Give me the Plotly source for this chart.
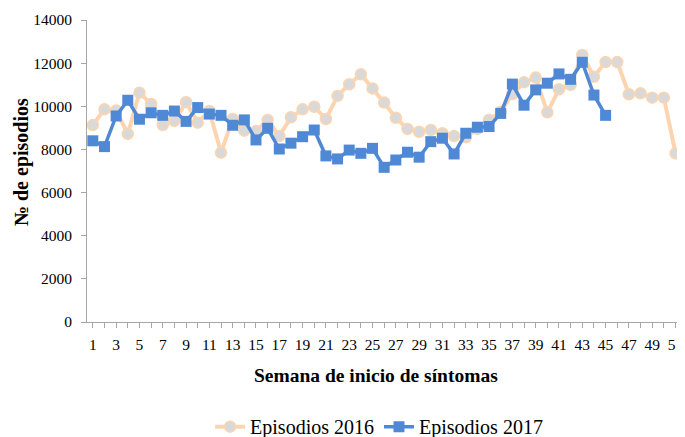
import plotly.graph_objects as go

weeks_2016 = list(range(1, 53))
episodios_2016 = [9130, 9860, 9800, 8720, 10630, 10110, 9130, 9320, 10190, 9240,
                  9780, 7850, 9410, 8870, 8850, 9370, 8620, 9490, 9860, 9980,
                  9410, 10480, 11020, 11480, 10830, 10170, 9470, 8950, 8820, 8900,
                  8750, 8620, 8560, 8950, 9370, 9750, 10570, 11110, 11330, 9720,
                  10790, 10990, 12380, 11370, 12050, 12050, 10560, 10600, 10400, 10400,
                  7820, 7820]

weeks_2017 = list(range(1, 46))
episodios_2017 = [8400, 8130, 9550, 10280, 9400, 9700, 9580, 9780, 9300, 9940,
                  9640, 9580, 9120, 9370, 8440, 8980, 8020, 8290, 8590, 8900,
                  7700, 7560, 7970, 7820, 8050, 7170, 7510, 7870, 7640, 8360,
                  8520, 7790, 8750, 9030, 9060, 9670, 11030, 10050, 10760, 11070,
                  11500, 11250, 12040, 10520, 9580]

y_ticks = [0, 2000, 4000, 6000, 8000, 10000, 12000, 14000]
y_tick_text = [str(v) for v in y_ticks]
x_tick_vals = list(range(1, 53))
x_tick_text = [str(w) if w % 2 == 1 else "" for w in x_tick_vals]

FONT = "Liberation Serif"

fig = go.Figure()
fig.add_trace(go.Scatter(
    x=weeks_2016, y=episodios_2016, mode="lines+markers", name="Episodios 2016",
    line=dict(color="#FCD5B0", width=4),
    marker=dict(symbol="circle", size=11, color="#D9D9D9",
                line=dict(color="#FCD5B0", width=1.5)),
    cliponaxis=False,
))
fig.add_trace(go.Scatter(
    x=weeks_2017, y=episodios_2017, mode="lines+markers", name="Episodios 2017",
    line=dict(color="#4F89D6", width=3.5),
    marker=dict(symbol="square", size=11, color="#4F89D6"),
    cliponaxis=False,
))

fig.update_layout(
    width=685, height=437,
    margin=dict(l=79, r=0, t=12, b=123),
    paper_bgcolor="white", plot_bgcolor="white",
    font=dict(family=FONT, color="#000000", size=15.5),
    showlegend=True,
    legend=dict(orientation="h", x=0.482, xanchor="center", xref="paper",
                y=0.042, yanchor="middle", yref="container",
                font=dict(family=FONT, size=20, color="#000"), itemwidth=30,
                bgcolor="rgba(0,0,0,0)"),
    xaxis=dict(range=[0.5, 52.5], tickmode="array", tickvals=x_tick_vals,
               ticktext=x_tick_text, ticks="outside", ticklen=5, tickcolor="#A6A6A6",
               showline=True, linecolor="#A6A6A6", linewidth=1, showgrid=False,
               zeroline=False, tickfont=dict(family=FONT, size=15.5), automargin=False,
               ticklabelstandoff=3, ticklabeloverflow="allow"),
    yaxis=dict(range=[0, 14000], tickmode="array", tickvals=y_ticks, ticktext=y_tick_text,
               ticks="outside", ticklen=5,
               tickcolor="#A6A6A6", showline=True, linecolor="#A6A6A6", linewidth=1,
               showgrid=False, zeroline=False, tickfont=dict(family=FONT, size=15.5),
               ticklabelstandoff=6, automargin=False),
    annotations=[
        dict(text="<b>Semana de inicio de síntomas</b>", xref="paper", yref="paper",
             x=0.477, y=-0.1755, xanchor="center", yanchor="middle", showarrow=False,
             font=dict(family=FONT, size=19.5, color="#000")),
        dict(text="<b>№ de episodios</b>", xref="paper", yref="paper",
             x=-0.107, y=0.53, xanchor="center", yanchor="middle", showarrow=False,
             textangle=-90, font=dict(family=FONT, size=20, color="#000")),
    ],
)

fig.write_html("out.html")
